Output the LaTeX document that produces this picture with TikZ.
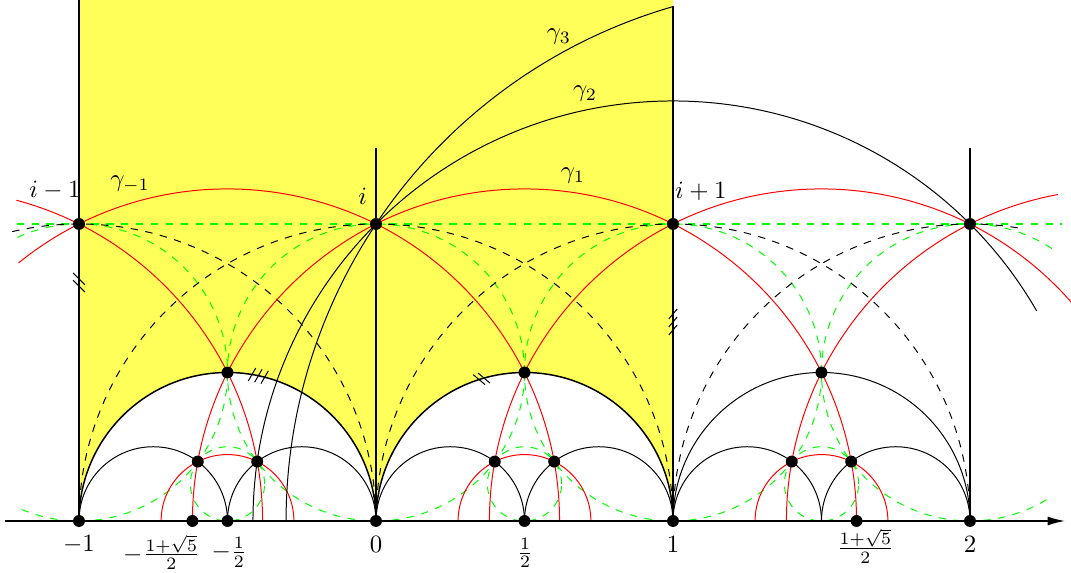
\documentclass[tikz,border=0pt]{standalone}
\usepackage{amsmath}
\usepackage{amssymb}
\usetikzlibrary{arrows.meta,positioning,calc}

\definecolor{regionyellow}{RGB}{255,255,90}

\tikzset{
  dot/.style={circle, fill=black, inner sep=0pt, minimum size=4.8pt},
  geodesic/.style={black, thin},
  redarc/.style={red, thin},
  horocycle/.style={green, dashed, thin},
  unitarc/.style={black, dashed, thin},
  sidemark/.style={black, thin},
  axislabel/.style={inner sep=0pt},
}

\begin{document}
\begin{tikzpicture}[x=4.2cm, y=4.2cm]
    \useasboundingbox (-1.2660,-0.1751) rectangle (2.3401,1.7542);

    % fundamental region
    \fill[regionyellow] (-1,1.7542) -- (-1,0) arc[start angle=180, end angle=0, radius=0.5]
        arc[start angle=180, end angle=0, radius=0.5] -- (1,1.7542) -- cycle;

    % horocycles
    \draw[horocycle, line width=0.8pt] (-1.21,1) -- (2.31,1);
    \draw[horocycle] (-1,0.5) ++(114.5:0.5) arc[start angle=114.5, end angle=-114.5, radius=0.5];
    \foreach \n in {0,1}
        \draw[horocycle] (\n,0.5) circle[radius=0.5];
    \draw[horocycle] (2,0.5) ++(56.5:0.5) arc[start angle=56.5, end angle=303.5, radius=0.5];
    \foreach \c in {-0.5,0.5,1.5}
        \draw[horocycle] (\c,0.125) circle[radius=0.125];

    % unit circles
    \draw[unitarc] (-1,0) ++(103:1) arc[start angle=103, end angle=0, radius=1];
    \foreach \c in {0,1}
        \draw[unitarc] ({\c+1},0) arc[start angle=0, end angle=180, radius=1];
    \draw[unitarc] (1,0) arc[start angle=180, end angle=80, radius=1];

    % red arcs
    \draw[redarc] (-1.5,0) ++(75:1.118034) arc[start angle=75, end angle=0, radius=1.118034];
    \draw[redarc] (-0.5,0) ++(129:1.118034) arc[start angle=129, end angle=0, radius=1.118034];
    \draw[redarc] (-0.618034,0) arc[start angle=180, end angle=0, radius=1.118034];
    \draw[redarc] (0.381966,0) arc[start angle=180, end angle=40, radius=1.118034];
    \draw[redarc] (1.381966,0) arc[start angle=180, end angle=100.5, radius=1.118034];
    \foreach \c in {-0.5,0.5,1.5}
        \draw[redarc] ({\c+0.2236068},0) arc[start angle=0, end angle=180, radius=0.2236068];

    % black geodesics
    \draw[semithick] (-1,0) arc[start angle=180, end angle=0, radius=0.5]
        arc[start angle=180, end angle=0, radius=0.5];
    \draw[geodesic] (1,0) arc[start angle=180, end angle=0, radius=0.5];
    \foreach \c in {-0.75,-0.25,0.25,0.75,1.25,1.75}
        \draw[geodesic] ({\c+0.25},0) arc[start angle=0, end angle=180, radius=0.25];

    % gamma curves
    \draw[geodesic] (-0.414214,0) arc[start angle=180, end angle=30, radius=1.414214];
    \draw[geodesic] (-0.302776,0) arc[start angle=180, end angle=106.1, radius=1.802776];

    % vertical lines
    \draw[semithick] (-1,0) -- (-1,1.7542);
    \draw[semithick] (0,0) -- (0,1.255);
    \draw[semithick] (1,0) -- (1,1.735);
    \draw[semithick] (2,0) -- (2,1.255);

    % real axis
    \coordinate (axl) at (-1.249,0);
    \coordinate (axr) at (2.32,0);
    \draw[semithick, -{Latex[length=7pt, width=3.6pt]}] (axl) -- (axr);

    % side marks
    \foreach \y in {0.815,0.791}
        \draw[sidemark] (-1,\y) ++(-45:0.028) -- ++(135:0.056);
    \foreach \y in {0.697,0.670,0.643}
        \draw[sidemark] (1,\y) ++(50:0.022) -- ++(230:0.044);
    \foreach \a in {80.5,78,75.5}
        \draw[sidemark] (-0.5,0) ++(\a:0.5) ++(60:0.025) -- ++(240:0.05);
    \foreach \a in {107.8,105.8}
        \draw[sidemark] (0.5,0) ++(\a:0.5) ++(-40:0.026) -- ++(140:0.052);

    % points
    \node[dot] (im1) at (-1,1) {};
    \node[dot] (i0) at (0,1) {};
    \node[dot] (ip1) at (1,1) {};
    \node[dot] (ip2) at (2,1) {};
    \node[dot] (hm) at (-0.5,0.5) {};
    \node[dot] (hp) at (0.5,0.5) {};
    \node[dot] (hq) at (1.5,0.5) {};
    \node[dot] (sa) at (-0.6,0.2) {};
    \node[dot] (sb) at (-0.4,0.2) {};
    \node[dot] (sc) at (0.4,0.2) {};
    \node[dot] (sd) at (0.6,0.2) {};
    \node[dot] (se) at (1.4,0.2) {};
    \node[dot] (sf) at (1.6,0.2) {};
    \node[dot] (xm1) at (-1,0) {};
    \node[dot] (xphi) at (-0.618034,0) {};
    \node[dot] (xmh) at (-0.5,0) {};
    \node[dot] (x0) at (0,0) {};
    \node[dot] (xh) at (0.5,0) {};
    \node[dot] (x1) at (1,0) {};
    \node[dot] (xPhi) at (1.618034,0) {};
    \node[dot] (x2) at (2,0) {};

    % labels
    \node (lim1) at (-1.081,1.114) {$i-1$};
    \node (lgm1) at (-0.828,1.135) {$\gamma_{-1}$};
    \node (li0) at (-0.045,1.093) {$i$};
    \node (lg1) at (0.663,1.162) {$\gamma_1$};
    \node (lip1) at (1.094,1.111) {$i+1$};
    \node (lg2) at (0.704,1.438) {$\gamma_2$};
    \node (lg3) at (0.616,1.630) {$\gamma_3$};
    \node[axislabel] (lxm1) at (-1,-0.079) {$-1$};
    \node[axislabel] (lxphi) at (-0.722,-0.106) {$-\frac{1+\sqrt{5}}{2}$};
    \node[axislabel] (lxmh) at (-0.494,-0.106) {$-\frac{1}{2}$};
    \node[axislabel] (lx0) at (0,-0.079) {$0$};
    \node[axislabel] (lxh) at (0.502,-0.108) {$\frac{1}{2}$};
    \node[axislabel] (lx1) at (1,-0.079) {$1$};
    \node[axislabel] (lxPhi) at (1.648,-0.084) {$\frac{1+\sqrt{5}}{2}$};
    \node[axislabel] (lx2) at (2,-0.079) {$2$};
\end{tikzpicture}
\end{document}
